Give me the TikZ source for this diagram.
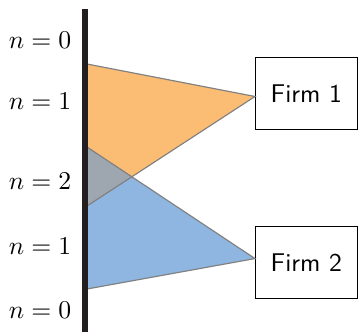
\documentclass[tikz,border=0pt]{standalone}
\begin{document}
\begin{tikzpicture}[x=0.39pt,y=-0.39pt,
  firmbox/.style={draw=black, line width=0.4pt, minimum width=39.6pt, minimum height=28pt, inner sep=0pt, font=\sffamily},
  lab/.style={inner sep=0pt},
  edge/.style={draw=black!50, line width=0.45pt}]
\definecolor{orfill}{HTML}{FBBC74}
\definecolor{blfill}{HTML}{8FB6E0}
\definecolor{grfill}{HTML}{9EA6B0}
\definecolor{barcol}{HTML}{231F20}
\useasboundingbox (0,0) rectangle (358,332);
% boxes
\node[firmbox, anchor=north west] (f1) at (255,57) {Firm 1};
\node[firmbox, anchor=north west] (f2) at (255,226) {Firm 2};
% bar-side coordinates
\coordinate (o1) at (87,64);
\coordinate (o2) at (87,206);
\coordinate (b1) at (87,147);
\coordinate (b2) at (87,289);
\coordinate (a1) at ([yshift=-1.2pt]f1.west);
\coordinate (a2) at ([yshift=1.5pt]f2.west);
% fills
\fill[orfill] (o1) -- (a1) -- (o2) -- cycle;
\fill[blfill] (b1) -- (a2) -- (b2) -- cycle;
\begin{scope}
  \clip (o1) -- (a1) -- (o2) -- cycle;
  \fill[grfill] (b1) -- (a2) -- (b2) -- cycle;
\end{scope}
% edges
\draw[edge] (o1) -- (a1) -- (o2);
\draw[edge] (b1) -- (a2) -- (b2);
% bar
\coordinate (bt) at (85,9);
\coordinate (bb) at (85,332);
\draw[barcol, line width=2.4pt] (bt) -- (bb);
% labels
\node[lab] (l0) at (40,40) {$n=0$};
\node[lab] (l1) at (40,101) {$n=1$};
\node[lab] (l2) at (40,181) {$n=2$};
\node[lab] (l3) at (40,246) {$n=1$};
\node[lab] (l4) at (40,310) {$n=0$};
\end{tikzpicture}
\end{document}
